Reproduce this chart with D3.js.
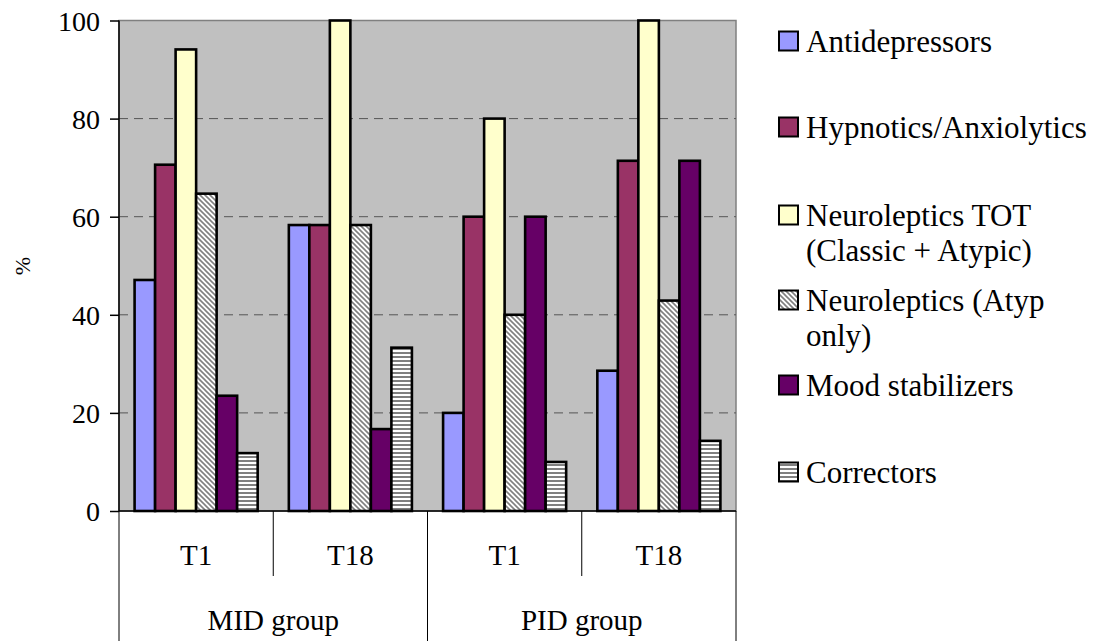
<!DOCTYPE html>
<html><head><meta charset="utf-8">
<script src="https://cdn.jsdelivr.net/npm/d3@7"></script>
<style>body{margin:0;background:#fff}svg{display:block}</style>
</head><body><svg id="c" width="1093" height="641" font-family="'Liberation Serif', serif"></svg>
<script>
const periods = ["T1","T18","T1","T18"];
const groups = ["MID group","PID group"];
const seriesNames = ["Antidepressors","Hypnotics/Anxiolytics","Neuroleptics TOT|(Classic + Atypic)","Neuroleptics (Atyp|only)","Mood stabilizers","Correctors"];
const antidepressors = [47.1, 58.3, 20.0, 28.6];
const hypnotics = [70.6, 58.3, 60.0, 71.4];
const neuroTot = [94.1, 100, 80, 100];
const neuroAtyp = [64.7, 58.3, 40.0, 42.9];
const moodStab = [23.5, 16.7, 60.0, 71.4];
const correctors = [11.8, 33.3, 10.0, 14.3];
const yTicks = [0,20,40,60,80,100];

const seriesVals = [antidepressors, hypnotics, neuroTot, neuroAtyp, moodStab, correctors];
const fills = ["#9999FF","#993366","#FFFFCC","url(#diag)","#660066","url(#horiz)"];
const FF = "'Liberation Serif', 'Times New Roman', serif";

const svg = d3.select("#c");
const L=119, R=736, T=20.5, B=511;
const defs = svg.append("defs");
const pd = defs.append("pattern").attr("id","diag").attr("patternUnits","userSpaceOnUse").attr("width",5).attr("height",5);
pd.append("rect").attr("width",5).attr("height",5).attr("fill","#fff");
pd.append("path").attr("d","M-1,-1L6,6M-1,4L1,6M4,-1L6,1").attr("stroke","#808080").attr("stroke-width",1.6);
const ph = defs.append("pattern").attr("id","horiz").attr("patternUnits","userSpaceOnUse").attr("width",4).attr("height",4);
ph.append("rect").attr("width",4).attr("height",4).attr("fill","#fff");
ph.append("rect").attr("y",0).attr("width",4).attr("height",2).attr("fill","#808080");

const x0 = d3.scaleBand().domain(d3.range(periods.length)).range([L,R]).padding(0);
const x1 = d3.scaleBand().domain(d3.range(seriesVals.length)).range([0,x0.bandwidth()]).paddingInner(0).paddingOuter(0.76);
const y = d3.scaleLinear().domain([0,100]).range([B,T]);

svg.append("rect").attr("x",L).attr("y",T).attr("width",R-L).attr("height",B-T).attr("fill","#C0C0C0").attr("stroke","#808080").attr("stroke-width",1.5);

svg.append("g").selectAll("line").data(yTicks.filter(d=>d>0&&d<100)).join("line")
  .attr("x1",L).attr("x2",R).attr("y1",d=>y(d)).attr("y2",d=>y(d))
  .attr("stroke","#555").attr("stroke-width",1).attr("stroke-dasharray","9,6");

const bars = svg.append("g");
seriesVals.forEach((vals,si)=>{
  bars.selectAll(null).data(vals).join("rect")
    .attr("x",(d,i)=>x0(i)+x1(si)).attr("width",x1.bandwidth())
    .attr("y",d=>y(d)).attr("height",d=>B-y(d))
    .attr("fill",fills[si]).attr("stroke","#000").attr("stroke-width",2.6);
});

// y axis
const ya = svg.append("g").attr("transform",`translate(${L},0)`).call(d3.axisLeft(y).tickValues(yTicks).tickSize(9).tickPadding(10).tickFormat(d3.format("d")));
ya.attr("font-family",FF);
ya.select(".domain").attr("stroke","#000").attr("stroke-width",1.5).attr("d",`M0,${T}V${B}`);
ya.selectAll(".tick line").attr("stroke","#000").attr("stroke-width",1.5);
ya.selectAll(".tick text").style("font-family",FF).style("font-size","28px").attr("dy","0.34em").attr("fill","#000");

svg.append("text").attr("transform","translate(30,266) rotate(-90)").attr("text-anchor","middle").style("font-family",FF).style("font-size","22px").text("%");

// x axis
svg.append("line").attr("x1",L).attr("x2",R).attr("y1",B).attr("y2",B).attr("stroke","#000").attr("stroke-width",1.5);
const xa = svg.append("g");
d3.range(1,periods.length).forEach(i=>{
  const xx = x0(i);
  const isGroup = i % 2 === 0;
  xa.append("line").attr("x1",xx).attr("x2",xx).attr("y1",B).attr("y2",isGroup?641:576).attr("stroke","#000").attr("stroke-width",1);
});
[L,R].forEach(xx=>xa.append("line").attr("x1",xx).attr("x2",xx).attr("y1",B).attr("y2",641).attr("stroke","#000").attr("stroke-width",1));
xa.selectAll("text.p").data(periods).join("text").attr("class","p")
  .attr("x",(d,i)=>x0(i)+x0.bandwidth()/2).attr("y",565).attr("text-anchor","middle").style("font-family",FF).style("font-size","29px").text(d=>d);
xa.selectAll("text.g").data(groups).join("text").attr("class","g")
  .attr("x",(d,i)=>x0(i*2)+x0.bandwidth()).attr("y",630).attr("text-anchor","middle").style("font-family",FF).style("font-size","29px").text(d=>d);

// legend
const legY = [41,127,215,300,385,472];
const lg = svg.append("g");
seriesNames.forEach((n,i)=>{
  lg.append("rect").attr("x",779).attr("y",legY[i]-9.5).attr("width",19).attr("height",19).attr("fill",fills[i]).attr("stroke","#000").attr("stroke-width",2);
  const t = lg.append("text").attr("x",806).attr("y",legY[i]).style("font-family",FF).style("font-size","31px");
  n.split("|").forEach((ln,j)=>t.append("tspan").attr("x",806).attr("dy",j===0?"0.35em":"35").text(ln));
});
</script></body></html>
